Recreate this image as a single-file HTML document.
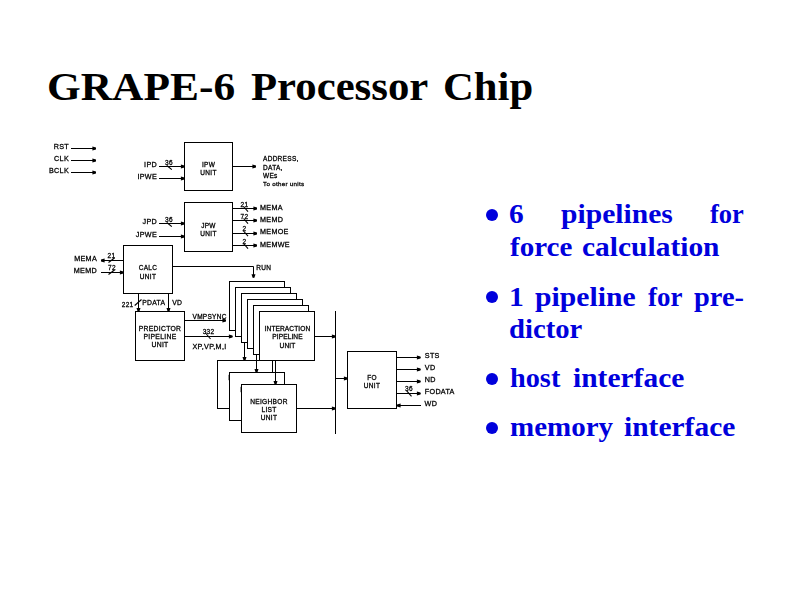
<!DOCTYPE html>
<html><head><meta charset="utf-8"><style>
html,body{margin:0;padding:0;background:#fff;width:800px;height:600px;overflow:hidden;position:relative}
.t{position:absolute;font-family:"Liberation Serif",serif;font-weight:bold;white-space:nowrap;transform-origin:0 0}
.ti{font-size:40px;line-height:40px;color:#000}
.b{color:#0000dc;font-size:26px;line-height:26px}
.dot{position:absolute;width:12px;height:12px;border-radius:50%;background:#0000dc}
svg{position:absolute;left:0;top:0;will-change:transform}
svg line,svg polyline,svg rect{stroke:#000;stroke-width:1;fill:none}
svg rect.w{fill:#fff}
svg line.s{stroke-width:1.1}
svg polygon.a{fill:#000;stroke:none}
svg text{font-family:"Liberation Sans",sans-serif;fill:#000;stroke:#000;stroke-width:0.28;letter-spacing:0.3px}
</style></head><body>
<div class="t ti" style="left:46.83px;top:67px;transform-origin:0 0px;transform:scale(1.0853,1.0)">GRAPE-6</div>
<div class="t ti" style="left:250.70px;top:67px;transform-origin:0 0px;transform:scale(1.0685,1.0)">Processor</div>
<div class="t ti" style="left:443.47px;top:67px;transform-origin:0 0px;transform:scale(1.0667,1.0)">Chip</div>
<div class="t b" style="left:508.55px;top:201.5px;transform-origin:0 21.5px;transform:scale(1.1304,1.05)">6</div>
<div class="t b" style="left:560.72px;top:201.5px;transform-origin:0 21.5px;transform:scale(1.1385,1.05)">pipelines</div>
<div class="t b" style="left:710.35px;top:201.5px;transform-origin:0 21.5px;transform:scale(1.0185,1.05)">for</div>
<div class="t b" style="left:510.22px;top:234.5px;transform-origin:0 21.5px;transform:scale(1.1182,1.05)">force</div>
<div class="t b" style="left:581.65px;top:234.5px;transform-origin:0 21.5px;transform:scale(1.1333,1.05)">calculation</div>
<div class="t b" style="left:509.12px;top:284.5px;transform-origin:0 21.5px;transform:scale(1.1385,1.05)">1</div>
<div class="t b" style="left:535.11px;top:284.5px;transform-origin:0 21.5px;transform:scale(1.1415,1.05)">pipeline</div>
<div class="t b" style="left:648.04px;top:284.5px;transform-origin:0 21.5px;transform:scale(1.0369,1.05)">for</div>
<div class="t b" style="left:694.03px;top:284.5px;transform-origin:0 21.5px;transform:scale(1.0921,1.05)">pre-</div>
<div class="t b" style="left:508.90px;top:316.5px;transform-origin:0 21.5px;transform:scale(1.1031,1.05)">dictor</div>
<div class="t b" style="left:509.96px;top:365.5px;transform-origin:0 21.5px;transform:scale(1.0879,1.05)">host</div>
<div class="t b" style="left:572.93px;top:365.5px;transform-origin:0 21.5px;transform:scale(1.1340,1.05)">interface</div>
<div class="t b" style="left:509.66px;top:414.5px;transform-origin:0 21.5px;transform:scale(1.1148,1.05)">memory</div>
<div class="t b" style="left:623.93px;top:414.5px;transform-origin:0 21.5px;transform:scale(1.1340,1.05)">interface</div>
<div class="dot" style="left:486px;top:209px"></div>
<div class="dot" style="left:486px;top:291px"></div>
<div class="dot" style="left:486px;top:373px"></div>
<div class="dot" style="left:486px;top:422px"></div>
<svg width="800" height="600" viewBox="0 0 800 600">
<text x="69" y="149.2" font-size="7.2" text-anchor="end">RST</text>
<line x1="71" x2="96" y1="148.5" y2="148.5"/>
<polygon class="a" points="96,147.6 92.4,146.5 92.4,150.5 96,149.4"/>
<text x="69" y="161.2" font-size="7.2" text-anchor="end">CLK</text>
<line x1="71" x2="96" y1="160.5" y2="160.5"/>
<polygon class="a" points="96,159.6 92.4,158.5 92.4,162.5 96,161.4"/>
<text x="69" y="173.2" font-size="7.2" text-anchor="end">BCLK</text>
<line x1="71" x2="96" y1="172.5" y2="172.5"/>
<polygon class="a" points="96,171.6 92.4,170.5 92.4,174.5 96,173.4"/>
<text x="157" y="167.2" font-size="7.2" text-anchor="end">IPD</text>
<line x1="159" x2="184.5" y1="166.5" y2="166.5"/>
<polygon class="a" points="184.5,165.6 180.9,164.5 180.9,168.5 184.5,167.4"/>
<text x="169" y="165.2" font-size="6.5" text-anchor="middle">36</text>
<line class="s" x1="166.8" x2="171.8" y1="165.5" y2="169.7"/>
<text x="157" y="179.2" font-size="7.2" text-anchor="end">IPWE</text>
<line x1="159" x2="184.5" y1="178.5" y2="178.5"/>
<polygon class="a" points="184.5,177.6 180.9,176.5 180.9,180.5 184.5,179.4"/>
<rect x="184.5" y="142.5" width="48.0" height="48.0"/>
<text x="208.5" y="167.3" font-size="6.5" text-anchor="middle">IPW</text>
<text x="208.5" y="175.2" font-size="6.5" text-anchor="middle">UNIT</text>
<line x1="232.5" x2="256" y1="166.5" y2="166.5"/>
<polygon class="a" points="256,165.6 252.4,164.5 252.4,168.5 256,167.4"/>
<text x="263" y="161.2" font-size="6.5">ADDRESS,</text>
<text x="263" y="169.5" font-size="6.5">DATA,</text>
<text x="263" y="177.79999999999998" font-size="6.5">WEs</text>
<text x="263" y="186.1" font-size="6.2">To other units</text>
<text x="157" y="224.2" font-size="7.2" text-anchor="end">JPD</text>
<line x1="159" x2="184.5" y1="223.5" y2="223.5"/>
<polygon class="a" points="184.5,222.6 180.9,221.5 180.9,225.5 184.5,224.4"/>
<text x="169" y="222.2" font-size="6.5" text-anchor="middle">36</text>
<line class="s" x1="166.8" x2="171.8" y1="222.5" y2="226.7"/>
<text x="157" y="236.7" font-size="7.2" text-anchor="end">JPWE</text>
<line x1="159" x2="184.5" y1="236.5" y2="236.5"/>
<polygon class="a" points="184.5,235.6 180.9,234.5 180.9,238.5 184.5,237.4"/>
<rect x="184.5" y="202.5" width="48.0" height="49.0"/>
<text x="208.5" y="227.8" font-size="6.5" text-anchor="middle">JPW</text>
<text x="208.5" y="236" font-size="6.5" text-anchor="middle">UNIT</text>
<line x1="232.5" x2="257" y1="208.5" y2="208.5"/>
<polygon class="a" points="257,207.6 253.4,206.5 253.4,210.5 257,209.4"/>
<text x="244.5" y="206.8" font-size="6.5" text-anchor="middle">21</text>
<line class="s" x1="243.5" x2="248" y1="206.5" y2="211.7"/>
<text x="260" y="209.7" font-size="7.2">MEMA</text>
<line x1="232.5" x2="257" y1="220.5" y2="220.5"/>
<polygon class="a" points="257,219.6 253.4,218.5 253.4,222.5 257,221.4"/>
<text x="244.5" y="218.8" font-size="6.5" text-anchor="middle">72</text>
<line class="s" x1="243.5" x2="248" y1="218.5" y2="223.7"/>
<text x="260" y="221.7" font-size="7.2">MEMD</text>
<line x1="232.5" x2="257" y1="233.5" y2="233.5"/>
<polygon class="a" points="257,232.6 253.4,231.5 253.4,235.5 257,234.4"/>
<text x="244.5" y="231.3" font-size="6.5" text-anchor="middle">2</text>
<line class="s" x1="243.5" x2="248" y1="231" y2="236.2"/>
<text x="260" y="234.2" font-size="7.2">MEMOE</text>
<line x1="232.5" x2="257" y1="245.5" y2="245.5"/>
<polygon class="a" points="257,244.6 253.4,243.5 253.4,247.5 257,246.4"/>
<text x="244.5" y="243.8" font-size="6.5" text-anchor="middle">2</text>
<line class="s" x1="243.5" x2="248" y1="243.5" y2="248.7"/>
<text x="260" y="246.7" font-size="7.2">MEMWE</text>
<rect x="123.5" y="245.5" width="49.0" height="48.0"/>
<text x="148" y="270.2" font-size="6.5" text-anchor="middle">CALC</text>
<text x="148" y="279" font-size="6.5" text-anchor="middle">UNIT</text>
<text x="97" y="261" font-size="7.2" text-anchor="end">MEMA</text>
<line x1="101" x2="123.5" y1="260.5" y2="260.5"/>
<polygon class="a" points="101,259.6 104.6,258.5 104.6,262.5 101,261.4"/>
<text x="111.5" y="258" font-size="6.5" text-anchor="middle">21</text>
<line class="s" x1="108.5" x2="114.5" y1="262.5" y2="258"/>
<text x="97" y="273" font-size="7.2" text-anchor="end">MEMD</text>
<line x1="101" x2="123.5" y1="272.5" y2="272.5"/>
<polygon class="a" points="123.5,271.6 119.9,270.5 119.9,274.5 123.5,273.4"/>
<text x="112" y="270" font-size="6.5" text-anchor="middle">72</text>
<line class="s" x1="108.5" x2="114.5" y1="274.5" y2="270"/>
<polyline points="172.5,266.5 253.5,266.5 253.5,277.5"/>
<polygon class="a" points="252.6,277.8 251.5,274.2 255.5,274.2 254.4,277.8"/>
<text x="256.3" y="270" font-size="6.5">RUN</text>
<line x1="138.5" x2="138.5" y1="293.5" y2="311.5"/>
<polygon class="a" points="137.6,311.5 136.5,307.9 140.5,307.9 139.4,311.5"/>
<text x="133.5" y="306.8" font-size="6.5" text-anchor="end">221</text>
<line class="s" x1="134.7" x2="141.5" y1="305.5" y2="299.5"/>
<text x="142.2" y="304.5" font-size="6.8">PDATA</text>
<line x1="168.5" x2="168.5" y1="293.5" y2="311.5"/>
<polygon class="a" points="167.6,311.5 166.5,307.9 170.5,307.9 169.4,311.5"/>
<text x="172.2" y="304.5" font-size="6.8">VD</text>
<rect x="135.5" y="311.5" width="49.0" height="49.0"/>
<text x="160" y="331.0" font-size="6.8" text-anchor="middle">PREDICTOR</text>
<text x="160" y="339.2" font-size="6.8" text-anchor="middle">PIPELINE</text>
<text x="160" y="347.4" font-size="6.8" text-anchor="middle">UNIT</text>
<line x1="184.5" x2="226" y1="320.5" y2="320.5"/>
<polygon class="a" points="226,319.6 222.4,318.5 222.4,322.5 226,321.4"/>
<text x="192.5" y="319.2" font-size="6.5">VMPSYNC</text>
<line x1="184.5" x2="232.5" y1="336.5" y2="336.5"/>
<polygon class="a" points="232.5,335.6 228.9,334.5 228.9,338.5 232.5,337.4"/>
<text x="208.5" y="333.5" font-size="6.5" text-anchor="middle">332</text>
<line class="s" x1="205.5" x2="210.5" y1="333" y2="339"/>
<text x="192.5" y="349.2" font-size="7.2">XP,VP,M,I</text>
<rect class="w" x="229.5" y="281.5" width="55" height="49"/>
<rect class="w" x="235.5" y="287.5" width="55" height="49"/>
<rect class="w" x="241.5" y="293.5" width="55" height="49"/>
<rect class="w" x="247.5" y="299.5" width="55" height="49"/>
<rect class="w" x="253.5" y="305.5" width="55" height="49"/>
<rect class="w" x="259.5" y="311.5" width="55" height="49"/>
<text x="287.5" y="331.2" font-size="6.6" text-anchor="middle" style="letter-spacing:0.1px">INTERACTION</text>
<text x="287.5" y="339.4" font-size="6.6" text-anchor="middle" style="letter-spacing:0.1px">PIPELINE</text>
<text x="287.5" y="347.59999999999997" font-size="6.6" text-anchor="middle" style="letter-spacing:0.1px">UNIT</text>
<line x1="314.5" x2="335.5" y1="336.5" y2="336.5"/>
<polygon class="a" points="335.5,335.6 331.9,334.5 331.9,338.5 335.5,337.4"/>
<line x1="335.5" x2="335.5" y1="311" y2="434"/>
<rect class="w" x="217.5" y="360.5" width="55" height="48"/>
<text x="247.0" y="380.0" font-size="6.6" text-anchor="middle">NEIGHBOR</text>
<text x="247.0" y="388.0" font-size="6.6" text-anchor="middle">LIST</text>
<text x="247.0" y="396.0" font-size="6.6" text-anchor="middle">UNIT</text>
<line x1="244.5" x2="244.5" y1="342" y2="360.5"/>
<polygon class="a" points="243.6,360.5 242.5,356.9 246.5,356.9 245.4,360.5"/>
<rect class="w" x="229.5" y="372.5" width="55" height="48"/>
<text x="259.0" y="392.0" font-size="6.6" text-anchor="middle">NEIGHBOR</text>
<text x="259.0" y="400.0" font-size="6.6" text-anchor="middle">LIST</text>
<text x="259.0" y="408.0" font-size="6.6" text-anchor="middle">UNIT</text>
<line x1="256.5" x2="256.5" y1="354" y2="372.5"/>
<polygon class="a" points="255.6,372.5 254.5,368.9 258.5,368.9 257.4,372.5"/>
<rect class="w" x="241.5" y="384.5" width="55" height="48"/>
<text x="269.0" y="404.0" font-size="6.6" text-anchor="middle">NEIGHBOR</text>
<text x="269.0" y="412.0" font-size="6.6" text-anchor="middle">LIST</text>
<text x="269.0" y="420.0" font-size="6.6" text-anchor="middle">UNIT</text>
<line x1="275.5" x2="275.5" y1="360.5" y2="384.5"/>
<polygon class="a" points="274.6,384.5 273.5,380.9 277.5,380.9 276.4,384.5"/>
<line x1="296.5" x2="335.5" y1="408.5" y2="408.5"/>
<polygon class="a" points="335.5,407.6 331.9,406.5 331.9,410.5 335.5,409.4"/>
<line x1="335.5" x2="347.5" y1="378.5" y2="378.5"/>
<polygon class="a" points="347.5,377.6 343.9,376.5 343.9,380.5 347.5,379.4"/>
<rect x="347.5" y="351.5" width="49.0" height="57.0"/>
<text x="372" y="380" font-size="6.5" text-anchor="middle">FO</text>
<text x="372" y="388.2" font-size="6.5" text-anchor="middle">UNIT</text>
<line x1="396.5" x2="420.5" y1="357.5" y2="357.5"/>
<polygon class="a" points="420.5,356.6 416.9,355.5 416.9,359.5 420.5,358.4"/>
<text x="424.8" y="358.3" font-size="7.2">STS</text>
<line x1="396.5" x2="420.5" y1="369.5" y2="369.5"/>
<polygon class="a" points="420.5,368.6 416.9,367.5 416.9,371.5 420.5,370.4"/>
<text x="424.8" y="370.0" font-size="7.2">VD</text>
<line x1="396.5" x2="420.5" y1="381.5" y2="381.5"/>
<polygon class="a" points="420.5,380.6 416.9,379.5 416.9,383.5 420.5,382.4"/>
<text x="424.8" y="381.8" font-size="7.2">ND</text>
<line x1="396.5" x2="420.5" y1="393.5" y2="393.5"/>
<polygon class="a" points="420.5,392.6 416.9,391.5 416.9,395.5 420.5,394.4"/>
<text x="424.8" y="394.0" font-size="7.2">FODATA</text>
<line x1="421" x2="396.5" y1="405.5" y2="405.5"/>
<polygon class="a" points="397,404.6 400.6,403.5 400.6,407.5 397,406.4"/>
<text x="424.6" y="406.2" font-size="7.2">WD</text>
<text x="409" y="391.2" font-size="6.5" text-anchor="middle">36</text>
<line class="s" x1="406.7" x2="411.5" y1="390.9" y2="396.4"/>
</svg>
</body></html>
